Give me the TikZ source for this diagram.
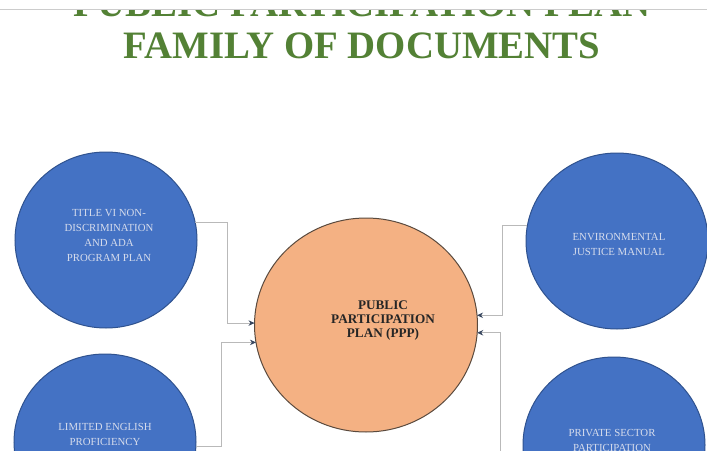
\documentclass[tikz,border=0pt]{standalone}
\usepackage{fontspec}
\setmainfont{Liberation Serif}
\usetikzlibrary{shapes.geometric,arrows.meta}
\definecolor{docblue}{RGB}{68,114,196}
\definecolor{docedge}{RGB}{47,82,143}
\definecolor{pppfill}{RGB}{244,177,131}
\definecolor{pppedge}{RGB}{90,74,62}
\definecolor{titlegreen}{RGB}{83,129,53}
\definecolor{doctext}{RGB}{214,220,236}
\definecolor{linkgray}{RGB}{185,185,185}
\definecolor{tipnavy}{RGB}{55,70,95}

\begin{document}
\begin{tikzpicture}[x=1pt,y=-1pt,
	bubble/.style={ellipse,draw=docedge,line width=1pt,fill=docblue,minimum width=182pt,minimum height=176pt,inner sep=0pt,outer sep=0pt},
	bubbletext/.style={text=doctext,align=center,font=\fontsize{10.8}{15}\selectfont},
	headline/.style={anchor=base,text=titlegreen,font=\fontsize{38.8}{43}\selectfont\bfseries},
	link/.style={draw=linkgray,line width=0.8pt,-{Stealth[length=6pt,width=5.5pt,color=tipnavy]}}]
	%frame
		\useasboundingbox (0,0) rectangle (707,450);
		\clip (0,0) rectangle (707,450);
		\fill[white] (0,0) rectangle (707,450);
	%title (top line hidden above the rule)
		\node[headline] (titletop) at (362,16) {PUBLIC PARTICIPATION PLAN};
		\node[headline] (titlemain) at (362,58.5) {FAMILY OF DOCUMENTS};
		\fill[white] (0,0) rectangle (707,9.5);
		\draw[line width=1.5pt,color=black!20] (0,9.5) -- (707,9.5);
	%centre plan
		\node[ellipse,draw=pppedge,line width=1pt,fill=pppfill,minimum width=223pt,minimum height=214pt,inner sep=0pt,outer sep=0pt] (ppp) at (366,325) {};
		\node[align=center,text=black!85,font=\fontsize{13.2}{14}\selectfont\bfseries] (ppptxt) at (383,320.5) {PUBLIC\\PARTICIPATION\\PLAN (PPP)};
	%outer documents
		\node[bubble] (tl) at (106,240) {};
		\node[bubbletext] (tltxt) at (109,235) {TITLE VI NON-\\DISCRIMINATION\\AND ADA\\PROGRAM PLAN};
		\node[bubble] (tr) at (617,241) {};
		\node[bubbletext] (trtxt) at (619,244) {ENVIRONMENTAL\\JUSTICE MANUAL};
		\node[bubble] (bl) at (105,442) {};
		\node[bubbletext] (bltxt) at (105,434) {LIMITED ENGLISH\\PROFICIENCY};
		\node[bubble] (br) at (614,445) {};
		\node[bubbletext] (brtxt) at (612,440) {PRIVATE SECTOR\\PARTICIPATION};
	%links into the plan
		\draw[link] (tl.11) -- ++(32,0) |- (ppp.179);
		\draw[link] (bl.-3) -- ++(26,0) |- (ppp.189);
		\draw[link] (tr.170) -- ++(-25,0) |- (ppp.5);
		\draw[link] (br.190) -- ++(-24,0) |- (ppp.-4);
\end{tikzpicture}
\end{document}
